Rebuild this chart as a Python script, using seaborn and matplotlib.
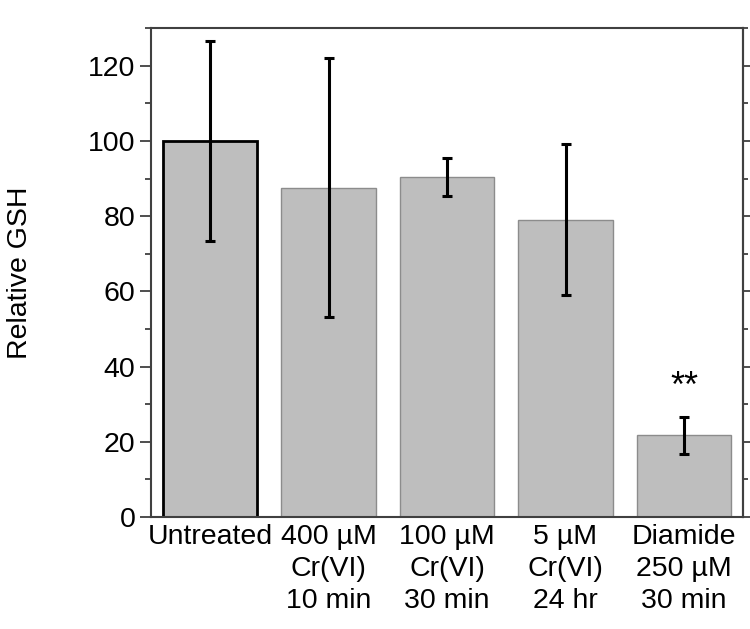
import numpy as np
import pandas as pd
import matplotlib
matplotlib.use("Agg")
import matplotlib.pyplot as plt
import seaborn as sns
from matplotlib.ticker import MultipleLocator

# values
treatments = ["Untreated", "400 µM\nCr(VI)\n10 min", "100 µM\nCr(VI)\n30 min",
              "5 µM\nCr(VI)\n24 hr", "Diamide\n250 µM\n30 min"]
gsh = [100.0, 87.6, 90.5, 79.1, 21.7]
gsh_err = [26.7, 34.5, 5.0, 20.0, 5.0]
signif = ["", "", "", "", "**"]

df = pd.DataFrame({"treatment": treatments, "gsh": gsh, "err": gsh_err})

sns.set_style("ticks")
plt.rcParams['font.family'] = ['Liberation Sans', 'DejaVu Sans']
plt.rcParams['text.color'] = 'black'
plt.rcParams['xtick.labelcolor'] = 'black'
plt.rcParams['ytick.labelcolor'] = 'black'
plt.rcParams['axes.labelcolor'] = 'black'

fig = plt.figure(figsize=(7.5, 6.29), dpi=100)
ax = fig.add_axes([0.201, 0.178, 0.790, 0.777])

sns.barplot(data=df, x="treatment", y="gsh", color="#bebebe", saturation=1,
            width=0.8, errorbar=None, edgecolor="#8c8c8c", linewidth=1.0, ax=ax)
# untreated bar has a black outline
ax.patches[0].set_edgecolor("black")
ax.patches[0].set_linewidth(2.0)

xpos = np.arange(len(df))
ax.errorbar(xpos, df["gsh"], yerr=df["err"], fmt="none", ecolor="black",
            elinewidth=2.2, capsize=3.5, capthick=2.2, zorder=5)

for x, v, e, s in zip(xpos, df["gsh"], df["err"], signif):
    if s:
        ax.text(x, v + e + 3, s, ha="center", va="bottom", fontsize=26)

ax.set_xlim(-0.5, 4.5)
ax.set_ylim(0, 130)
ax.yaxis.set_major_locator(MultipleLocator(20))
ax.yaxis.set_minor_locator(MultipleLocator(10))
ax.tick_params(axis="y", which="major", length=8, width=1.3, color="#404040",
               labelsize=20.5, pad=3)
ax.tick_params(axis="y", which="minor", length=4.5, width=1.3, color="#404040")
ax.tick_params(axis="x", length=0, labelsize=20.5, pad=5)
plt.setp(ax.get_xticklabels(), linespacing=1.3)

sec = ax.secondary_yaxis("right")
sec.yaxis.set_major_locator(MultipleLocator(20))
sec.yaxis.set_minor_locator(MultipleLocator(10))
sec.tick_params(which="major", length=5, width=1.3, color="#404040", labelright=False)
sec.tick_params(which="minor", length=3.5, width=1.3, color="#404040")
sec.spines["right"].set_color("#404040")
sec.spines["right"].set_linewidth(1.5)

for sp in ax.spines.values():
    sp.set_visible(True)
    sp.set_color("#404040")
    sp.set_linewidth(1.5)

ax.set_xlabel("")
ax.set_ylabel("Relative GSH", fontsize=20.5)
ax.yaxis.set_label_coords(-0.198, 0.5)

fig.savefig("out.png", dpi=100)
